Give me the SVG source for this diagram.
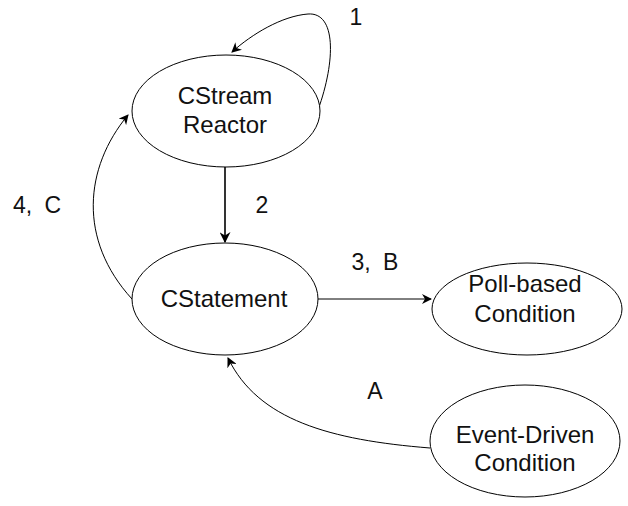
<svg xmlns="http://www.w3.org/2000/svg" width="628" height="506" viewBox="0 0 628 506">
  <style>
    .node ellipse { fill: #ffffff; stroke: #000000; stroke-width: 1; }
    .node text { font-family: "Liberation Sans", Arial, sans-serif; font-size: 24px; fill: #111111; text-anchor: middle; }
    .label { font-family: "Liberation Sans", Arial, sans-serif; font-size: 23px; fill: #111111; text-anchor: middle; }
    .edge { fill: none; stroke: #000000; stroke-width: 1; }
    .edge.bold { stroke-width: 1.6; }
  </style>
  <defs>
    <marker id="arrow" viewBox="0 0 10 10" refX="9" refY="5" markerWidth="10" markerHeight="10" markerUnits="userSpaceOnUse" orient="auto">
      <path d="M0,0 L10,5 L0,10 L3,5 Z" fill="#000000"/>
    </marker>
    <marker id="arrowBold" viewBox="0 0 10 10" refX="9" refY="5" markerWidth="11" markerHeight="11" markerUnits="userSpaceOnUse" orient="auto">
      <path d="M0,0 L10,5 L0,10 L3,5 Z" fill="#000000"/>
    </marker>
  </defs>

  <!-- connectors -->
  <g id="connectors">
    <!-- 1: self loop on the reactor -->
    <path class="edge" d="M318,110 C336,60 336,12 308,14 C282,16 252,34 232,52" marker-end="url(#arrow)"/>
    <!-- 2: reactor to statement -->
    <path class="edge bold" d="M225,167 L225,242" marker-end="url(#arrowBold)"/>
    <!-- 3, B: statement to poll-based condition -->
    <path class="edge" d="M318,299 L431,299" marker-end="url(#arrow)"/>
    <!-- 4, C: statement back to reactor -->
    <path class="edge" d="M132,299 C78,240 84,168 128,115" marker-end="url(#arrow)"/>
    <!-- A: event-driven condition to statement -->
    <path class="edge" d="M430,448 C330,440 258,420 228,358" marker-end="url(#arrow)"/>
  </g>

  <!-- edge labels -->
  <g id="labels">
    <text class="label" x="356" y="25">1</text>
    <text class="label" x="262" y="213">2</text>
    <text class="label" x="37" y="213" word-spacing="6">4, C</text>
    <text class="label" x="375" y="270" word-spacing="6">3, B</text>
    <text class="label" x="375" y="399">A</text>
  </g>

  <!-- nodes -->
  <g id="cstream-reactor" class="node">
    <ellipse cx="226" cy="111" rx="94" ry="56"/>
    <text x="225" y="104">CStream</text>
    <text x="225" y="133">Reactor</text>
  </g>
  <g id="cstatement" class="node">
    <ellipse cx="225" cy="299" rx="93" ry="56"/>
    <text x="224" y="307">CStatement</text>
  </g>
  <g id="poll-based-condition" class="node">
    <ellipse cx="527" cy="309" rx="95" ry="46"/>
    <text x="525" y="292">Poll-based</text>
    <text x="525" y="322">Condition</text>
  </g>
  <g id="event-driven-condition" class="node">
    <ellipse cx="525" cy="441" rx="95" ry="56"/>
    <text x="525" y="443">Event-Driven</text>
    <text x="525" y="471">Condition</text>
  </g>
</svg>
